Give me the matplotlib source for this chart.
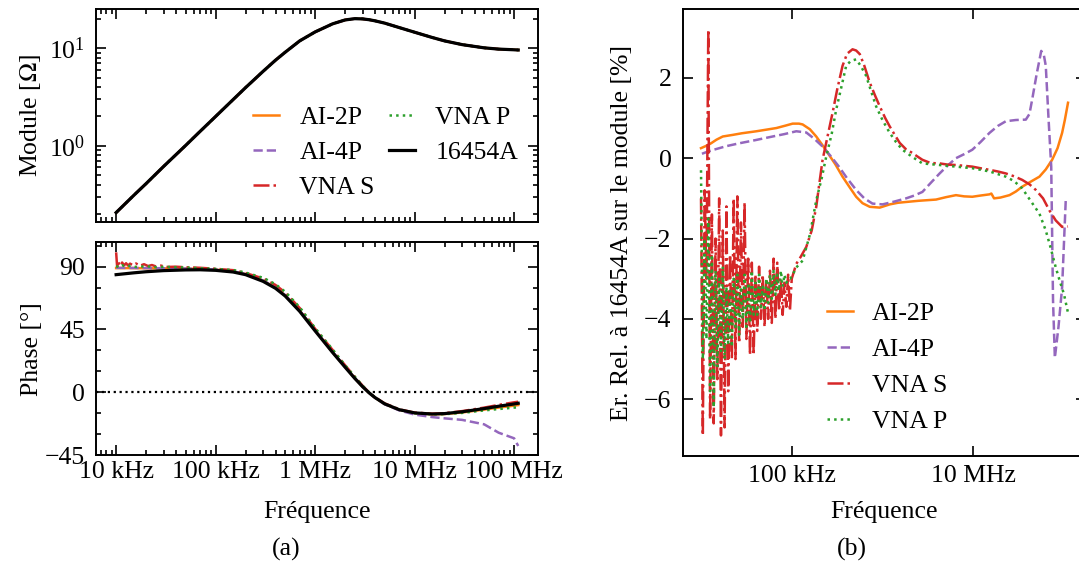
import numpy as np
import matplotlib
matplotlib.use("Agg")
import matplotlib.pyplot as plt
from matplotlib.ticker import FixedLocator, NullLocator, LogLocator, MultipleLocator, NullFormatter

plt.rcParams['font.family'] = ['Liberation Serif', 'DejaVu Serif']
plt.rcParams['mathtext.fontset'] = 'stix'
plt.rcParams['font.size'] = 18.5

# ---- data -------------------------------------------------------------
# common frequency grid (Hz) for module / phase curves
freq = [1e4, 1.5e4, 2e4, 3e4, 5e4, 7e4, 1e5, 1.5e5, 2e5, 3e5, 4e5, 5e5, 7e5,
        1e6, 1.5e6, 2e6, 2.5e6, 3e6, 3.5e6, 4e6, 5e6, 7e6, 1e7, 1.5e7, 2e7,
        3e7, 5e7, 7e7, 1e8, 1.1e8]

# module [Ohm] (all instruments overlap)
mod_ref = [0.207, 0.31, 0.41, 0.615, 1.01, 1.41, 2.0, 2.98, 3.95, 5.8, 7.55,
           9.1, 11.9, 14.7, 17.8, 19.5, 20.1, 20.0, 19.6, 19.1, 18.1, 16.3,
           14.6, 12.9, 11.9, 10.9, 10.1, 9.8, 9.65, 9.6]

# phase [deg]
ph_ref = [84.3, 85.6, 86.4, 87.2, 87.7, 87.8, 87.4, 86.2, 84.3, 79.5, 74.5,
          69.0, 58.0, 44.0, 28.5, 18.0, 10.0, 4.0, -0.5, -3.8, -8.3, -12.5,
          -14.8, -15.6, -15.3, -14.0, -11.7, -10.0, -8.4, -7.9]
ph_ai2p = [89.0, 89.0, 88.9, 88.8, 88.6, 88.4, 87.9, 86.6, 84.7, 80.0, 75.0,
           69.5, 58.5, 44.3, 28.7, 18.2, 10.1, 4.0, -0.5, -3.9, -8.4, -12.6,
           -14.9, -15.8, -15.6, -14.5, -12.4, -11.0, -9.6, -9.2]
ph_ai4p = [89.2, 89.1, 89.0, 88.9, 88.7, 88.5, 88.0, 86.7, 84.8, 80.1, 75.1,
           69.6, 58.6, 44.4, 28.8, 18.3, 10.2, 4.1, -0.5, -4.0, -8.6, -13.0,
           -16.0, -17.8, -18.7, -19.8, -23.0, -29.0, -33.0, -38.5]

lf_ph_vnas = [4.00, 4.01, 4.02, 4.04, 4.06, 4.08, 4.10, 4.12, 4.14, 4.17, 4.20,
              4.24, 4.28, 4.32, 4.36, 4.40, 4.45, 4.50, 4.60, 4.70, 4.85, 5.00,
              5.18, 5.30, 5.48, 5.60, 5.70, 5.85, 6.00, 6.18, 6.30, 6.40, 6.48,
              6.54, 6.60, 6.70, 6.85, 7.00, 7.18, 7.30, 7.48, 7.70, 7.85, 8.00,
              8.04]
ph_vnas = [100.3, 90.0, 93.5, 90.5, 93.0, 91.0, 92.5, 90.8, 92.2, 91.0, 92.3,
           90.7, 91.8, 90.5, 91.2, 90.2, 90.8, 89.8, 90.0, 89.6, 89.2, 88.5,
           87.5, 85.5, 81.5, 77.0, 71.5, 60.0, 45.5, 30.0, 19.5, 11.0, 4.5,
           0.0, -3.5, -8.0, -12.3, -14.6, -15.3, -15.0, -13.5, -11.0, -9.0,
           -7.2, -6.8]

lf_ph_vnap = [4.00, 4.03, 4.06, 4.10, 4.15, 4.20, 4.30, 4.40, 4.50, 4.70, 5.00,
              5.18, 5.30, 5.48, 5.60, 5.70, 5.85, 6.00, 6.18, 6.30, 6.40, 6.48,
              6.54, 6.60, 6.70, 6.85, 7.00, 7.18, 7.30, 7.48, 7.70, 7.85, 8.00,
              8.04]
ph_vnap = [90.5, 89.5, 91.0, 90.0, 90.8, 89.8, 90.3, 89.7, 89.9, 89.4, 88.4,
           87.6, 85.8, 82.0, 77.5, 72.0, 60.5, 46.0, 30.3, 19.5, 11.0, 4.5,
           0.0, -3.7, -8.3, -12.6, -15.0, -15.8, -15.7, -14.8, -13.0, -12.0,
           -11.0, -10.8]

# relative error vs 16454A [%], x given as log10(f)
lf_err_ai2p = [4.00, 4.05, 4.11, 4.17, 4.24, 4.35, 4.45, 4.61, 4.72, 4.83, 4.93,
               5.01, 5.08, 5.12, 5.20, 5.27, 5.34, 5.40, 5.48, 5.56, 5.64, 5.71,
               5.78, 5.86, 5.97, 6.08, 6.17, 6.26, 6.40, 6.59, 6.70, 6.81, 6.90,
               6.99, 7.08, 7.18, 7.20, 7.23, 7.30, 7.40, 7.47, 7.54, 7.63, 7.73,
               7.80, 7.87, 7.93, 7.98, 8.01, 8.045]
err_ai2p = [0.25, 0.30, 0.37, 0.46, 0.54, 0.58, 0.62, 0.67, 0.71, 0.75, 0.81,
            0.86, 0.86, 0.84, 0.72, 0.54, 0.32, 0.12, -0.15, -0.46, -0.73, -0.96,
            -1.12, -1.21, -1.23, -1.15, -1.11, -1.09, -1.06, -1.03, -0.97, -0.92,
            -0.95, -0.96, -0.93, -0.90, -0.88, -1.00, -0.98, -0.92, -0.83, -0.71,
            -0.59, -0.46, -0.28, -0.04, 0.25, 0.63, 0.95, 1.38]

lf_err_ai4p = [4.01, 4.07, 4.14, 4.28, 4.42, 4.60, 4.79, 4.92, 5.05, 5.16, 5.25,
               5.34, 5.43, 5.52, 5.61, 5.71, 5.80, 5.89, 6.00, 6.13, 6.26, 6.35,
               6.44, 6.53, 6.63, 6.72, 6.81, 6.90, 6.99, 7.08, 7.18, 7.27, 7.36,
               7.47, 7.58, 7.62, 7.65, 7.70, 7.75, 7.78, 7.80, 7.83, 7.86, 7.88,
               7.90, 7.94, 7.98, 8.02, 8.045]
err_ai4p = [0.11, 0.16, 0.21, 0.30, 0.37, 0.45, 0.54, 0.60, 0.67, 0.64, 0.48,
            0.29, 0.05, -0.21, -0.50, -0.79, -1.00, -1.13, -1.15, -1.08, -1.00,
            -0.93, -0.84, -0.62, -0.38, -0.18, 0.00, 0.10, 0.21, 0.40, 0.63,
            0.80, 0.92, 0.95, 0.96, 1.10, 1.46, 2.10, 2.67, 2.55, 2.30, 1.00,
            -0.21, -3.55, -4.97, -4.20, -3.22, -1.05, -1.00]

lf_err_vnas = [4.00, 4.02, 4.04, 4.06, 4.08, 4.10, 4.12, 4.14, 4.16, 4.18, 4.20,
               4.22, 4.24, 4.26, 4.28, 4.30, 4.32, 4.34, 4.36, 4.38, 4.40, 4.42,
               4.44, 4.46, 4.48, 4.50, 4.52, 4.54, 4.56, 4.58, 4.60, 4.62, 4.64,
               4.66, 4.68, 4.70, 4.72, 4.74, 4.76, 4.78, 4.80, 4.82, 4.84, 4.86,
               4.88, 4.90, 4.92, 4.94, 4.96, 4.98, 5.00, 5.05, 5.10, 5.16, 5.22,
               5.27, 5.30, 5.34, 5.40, 5.45, 5.50, 5.56, 5.61, 5.67, 5.71, 5.75,
               5.80, 5.86, 5.92, 5.97, 6.03, 6.08, 6.13, 6.19, 6.26, 6.33, 6.38,
               6.44, 6.53, 6.63, 6.72, 6.81, 6.90, 6.99, 7.08, 7.18, 7.27, 7.36,
               7.45, 7.54, 7.62, 7.69, 7.77, 7.84, 7.91, 7.98, 8.045]
err_vnas = [-1.0, -6.9, -0.8, -3.0, 3.2, -6.5, -1.4, -6.6, -2.0, -5.5, -1.0,
            -6.9, -1.8, -6.7, -1.2, -5.8, -2.4, -5.0, -1.0, -5.0, -0.95, -4.6,
            -1.6, -4.2, -1.1, -4.5, -2.5, -4.9, -2.6, -4.9, -2.9, -4.3, -2.7,
            -4.0, -2.9, -4.2, -3.0, -4.0, -2.8, -4.1, -2.5, -4.0, -2.6, -3.8,
            -3.0, -3.9, -3.1, -3.7, -2.9, -3.8, -3.0, -2.63, -2.45, -2.21, -1.8,
            -1.21, -0.7, -0.04, 0.6, 1.13, 1.7, 2.3, 2.6, 2.71, 2.68, 2.59,
            2.3, 1.88, 1.55, 1.29, 1.0, 0.79, 0.6, 0.38, 0.22, 0.13, 0.05,
            -0.04, -0.12, -0.13, -0.16, -0.17, -0.19, -0.21, -0.25, -0.29, -0.33,
            -0.38, -0.45, -0.54, -0.65, -0.79, -1.0, -1.3, -1.55, -1.71, -1.7]

lf_err_vnap = [4.00, 4.02, 4.04, 4.06, 4.08, 4.10, 4.12, 4.14, 4.16, 4.18, 4.20,
               4.22, 4.24, 4.26, 4.28, 4.30, 4.32, 4.34, 4.36, 4.38, 4.40, 4.42,
               4.44, 4.46, 4.48, 4.50, 4.52, 4.54, 4.56, 4.58, 4.60, 4.62, 4.64,
               4.66, 4.68, 4.70, 4.72, 4.74, 4.76, 4.78, 4.80, 4.82, 4.84, 4.86,
               4.88, 4.90, 4.92, 4.94, 4.96, 4.98, 5.00, 5.05, 5.12, 5.20, 5.27,
               5.33, 5.38, 5.44, 5.49, 5.55, 5.60, 5.65, 5.71, 5.76, 5.82, 5.87,
               5.93, 6.00, 6.08, 6.15, 6.22, 6.33, 6.44, 6.63, 6.81, 6.99, 7.18,
               7.36, 7.45, 7.54, 7.60, 7.66, 7.73, 7.80, 7.85, 7.91, 7.96, 8.00,
               8.045]
err_vnap = [-0.3, -5.0, -2.0, -4.5, -1.5, -5.8, -2.4, -6.2, -2.8, -5.2, -3.0,
            -4.8, -2.7, -5.0, -3.2, -4.6, -3.3, -4.7, -3.0, -4.2, -2.9, -4.4,
            -3.2, -4.0, -2.9, -4.2, -3.1, -4.1, -2.8, -3.9, -3.1, -3.9, -2.9,
            -3.7, -3.2, -3.8, -3.0, -3.6, -2.9, -3.5, -2.8, -3.4, -2.9, -3.3,
            -2.8, -3.2, -2.9, -3.1, -3.0, -3.0, -2.95, -2.72, -2.55, -1.9, -1.05,
            -0.5, 0.04, 0.6, 1.21, 1.8, 2.3, 2.42, 2.46, 2.3, 2.05, 1.7,
            1.29, 0.95, 0.63, 0.4, 0.21, 0.03, -0.13, -0.17, -0.21, -0.25, -0.33,
            -0.46, -0.57, -0.75, -0.95, -1.15, -1.38, -1.8, -2.2, -2.72, -3.1,
            -3.38, -3.85]

labels = ["AI-2P", "AI-4P", "VNA S", "VNA P", "16454A"]
colors = ["#ff7f0e", "#9467bd", "#d62728", "#2ca02c", "black"]
styles = ["-", "--", "-.", ":", "-"]

# ---- figure -------------------------------------------------------------
fig = plt.figure(figsize=(10.79, 5.72), dpi=100)
axM = fig.add_axes([0.0890, 0.6114, 0.4099, 0.3729])
axP = fig.add_axes([0.0890, 0.2045, 0.4099, 0.3719])
axE = fig.add_axes([0.6327, 0.2033, 0.3738, 0.7804])

f = np.array(freq)
lw = [1.8, 1.8, 1.8, 1.8, 2.3]

for i in range(4):
    axM.plot(f, mod_ref, styles[i], color=colors[i], lw=lw[i], label=labels[i])
axM.plot(f, mod_ref, styles[4], color=colors[4], lw=lw[4], label=labels[4])

axP.axhline(0, color="black", ls=":", lw=1.6)
axP.plot(f, ph_ai2p, styles[0], color=colors[0], lw=lw[0])
axP.plot(f, ph_ai4p, styles[1], color=colors[1], lw=lw[1])
axP.plot(10 ** np.array(lf_ph_vnas), ph_vnas, styles[2], color=colors[2], lw=lw[2])
axP.plot(10 ** np.array(lf_ph_vnap), ph_vnap, styles[3], color=colors[3], lw=lw[3])
axP.plot(f, ph_ref, styles[4], color=colors[4], lw=lw[4])

axE.plot(10 ** np.array(lf_err_ai2p), err_ai2p, styles[0], color=colors[0], lw=lw[0], label=labels[0])
axE.plot(10 ** np.array(lf_err_ai4p), err_ai4p, styles[1], color=colors[1], lw=lw[1], label=labels[1])
axE.plot(10 ** np.array(lf_err_vnas), err_vnas, styles[2], color=colors[2], lw=lw[2], label=labels[2])
axE.plot(10 ** np.array(lf_err_vnap), err_vnap, styles[3], color=colors[3], lw=lw[3], label=labels[3])

freq_ticks = [1e4, 1e5, 1e6, 1e7, 1e8]
freq_labels = ["10 kHz", "100 kHz", "1 MHz", "10 MHz", "100 MHz"]

for ax in (axM, axP, axE):
    ax.set_xscale("log")
    for s in ax.spines.values():
        s.set_linewidth(1.4)
    ax.tick_params(which="both", direction="in", top=True, right=True, width=1.2)
    ax.tick_params(which="major", length=7)
    ax.tick_params(which="minor", length=3.5)
    ax.tick_params(axis="y", which="both", pad=8)
    ax.tick_params(axis="x", which="both", pad=4)
axE.tick_params(axis="x", which="both", pad=7)

for ax in (axM, axP):
    ax.xaxis.set_major_locator(FixedLocator(freq_ticks))
    ax.xaxis.set_minor_locator(LogLocator(base=10, subs=np.arange(2, 10)))
    ax.xaxis.set_minor_formatter(NullFormatter())

axM.set_yscale("log")
axM.set_xticklabels([])
axM.set_ylabel(r"Module [$\Omega$]")
axM.yaxis.set_label_coords(-0.120, 0.5)
axM.legend(ncol=2, frameon=False, loc="lower right", bbox_to_anchor=(1.007, 0.0),
           handlelength=1.0, handletextpad=0.8, columnspacing=0.56, labelspacing=0.48)

axP.set_xticklabels(freq_labels)
axP.set_ylim(-45, 107.5)
axP.set_yticks([-45, 0, 45, 90])
axP.yaxis.set_minor_locator(MultipleLocator(15))
axP.set_ylabel("Phase [°]")
axP.yaxis.set_label_coords(-0.120, 0.5)
axP.set_xlabel("Fréquence", labelpad=13)

axE.set_xlim(axP.get_xlim())
axE.xaxis.set_major_locator(FixedLocator([1e5, 1e7]))
axE.set_xticklabels(["100 kHz", "10 MHz"])
axE.xaxis.set_minor_locator(NullLocator())
axE.set_yticks([-6, -4, -2, 0, 2])
axE.set_xlabel("Fréquence", labelpad=10)
axE.set_ylabel("Er. Rel. à 16454A sur le module [%]")
axE.yaxis.set_label_coords(-0.123, 0.5)
axE.legend(frameon=False, loc="lower left", bbox_to_anchor=(0.30, 0.0),
           handlelength=1.0, handletextpad=0.75, labelspacing=0.5)

fig.text(286 / 1079, 1 - 549 / 572, "(a)", ha="center", va="center")
fig.text(852 / 1079, 1 - 549 / 572, "(b)", ha="center", va="center")

fig.savefig("out.png", dpi=100)
